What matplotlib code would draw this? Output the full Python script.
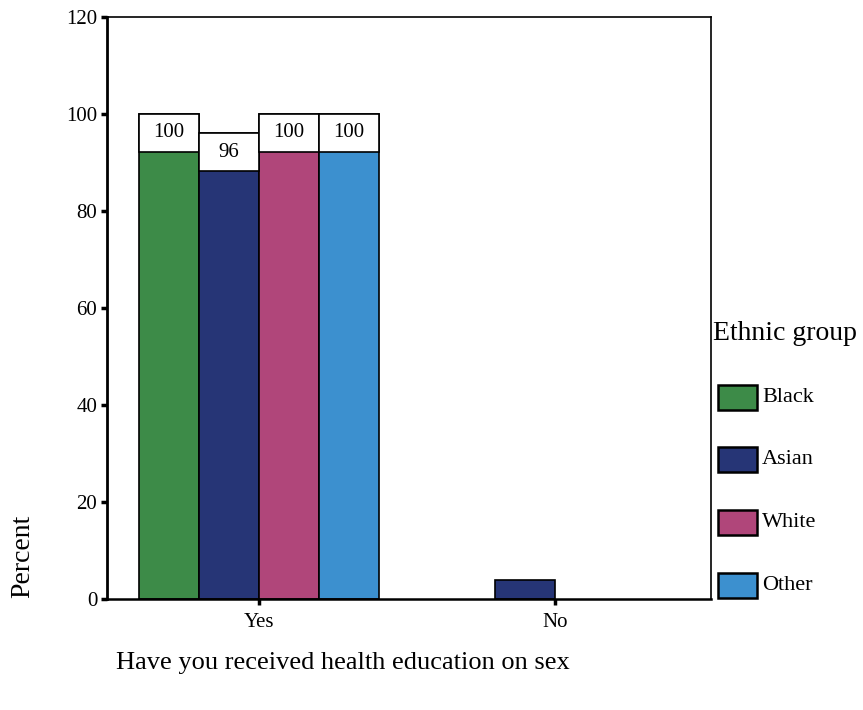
import numpy as np
from matplotlib import pyplot as plt
from matplotlib.patches import Rectangle

plt.rcParams['font.family'] = ['Liberation Serif', 'DejaVu Serif']

categories = ["Yes", "No"]
groups = ["Black", "Asian", "White", "Other"]
colors = ["#3d8b48", "#263576", "#b0467a", "#3c90cf"]
# percent of each ethnic group per answer
values = {
    "Black": [100, 0],
    "Asian": [96, 4],
    "White": [100, 0],
    "Other": [100, 0],
}
LABEL_MIN = 50   # only the tall bars get a value box

W, H = 863, 710
fig = plt.figure(figsize=(W / 100, H / 100), dpi=100)
ax = fig.add_axes([107 / W, 1 - 599 / H, 604 / W, 582 / H])

bw = 0.203
x = np.arange(len(categories))
for i, g in enumerate(groups):
    xs = x + (i - 1.5) * bw
    vals = np.array(values[g])
    keep = vals > 0   # empty cells draw nothing
    ax.bar(xs[keep], vals[keep], width=bw, color=colors[i], edgecolor="black", linewidth=1.2, zorder=2)
    for xx, v in zip(xs, vals):
        if v >= LABEL_MIN:
            # white value box over the top of the bar
            ax.bar(xx, 7.8, bottom=v - 7.8, width=bw, color="white", edgecolor="black",
                   linewidth=1.2, zorder=3)
            ax.text(xx, v - 3.9, str(v), ha="center", va="center", fontsize=15, zorder=4)

ax.set_xlim(-0.514, 1.527)
ax.set_ylim(0, 120)
ax.set_yticks(range(0, 121, 20))
ax.set_xticks(x)
ax.set_xticklabels(categories)
ax.tick_params(axis="both", labelsize=15, direction="out", length=4, width=2.5, pad=3)
ax.tick_params(axis="x", pad=6)
ax.spines["left"].set_linewidth(2.0)
ax.spines["bottom"].set_linewidth(1.8)
ax.spines["top"].set_linewidth(1.2)
ax.spines["right"].set_linewidth(1.2)

fig.text(23 / W, 1 - 598 / H, "Percent", rotation=90, fontsize=20, ha="center", va="bottom")
fig.text(116 / W, 1 - 663 / H, "Have you received health education on sex", fontsize=19,
         ha="left", va="center")

# legend drawn by hand, SPSS style
fig.text(713 / W, 1 - 333 / H, "Ethnic group", fontsize=20, ha="left", va="center")
for k, (g, c) in enumerate(zip(groups, colors)):
    yc = 397 + k * 62.7
    fig.add_artist(Rectangle((718 / W, 1 - (yc + 12.5) / H), 39 / W, 25 / H,
                             transform=fig.transFigure, facecolor=c, edgecolor="black",
                             linewidth=1.8))
    fig.text(762 / W, 1 - yc / H, g, fontsize=16, ha="left", va="center")

fig.savefig("out.png", dpi=100)
